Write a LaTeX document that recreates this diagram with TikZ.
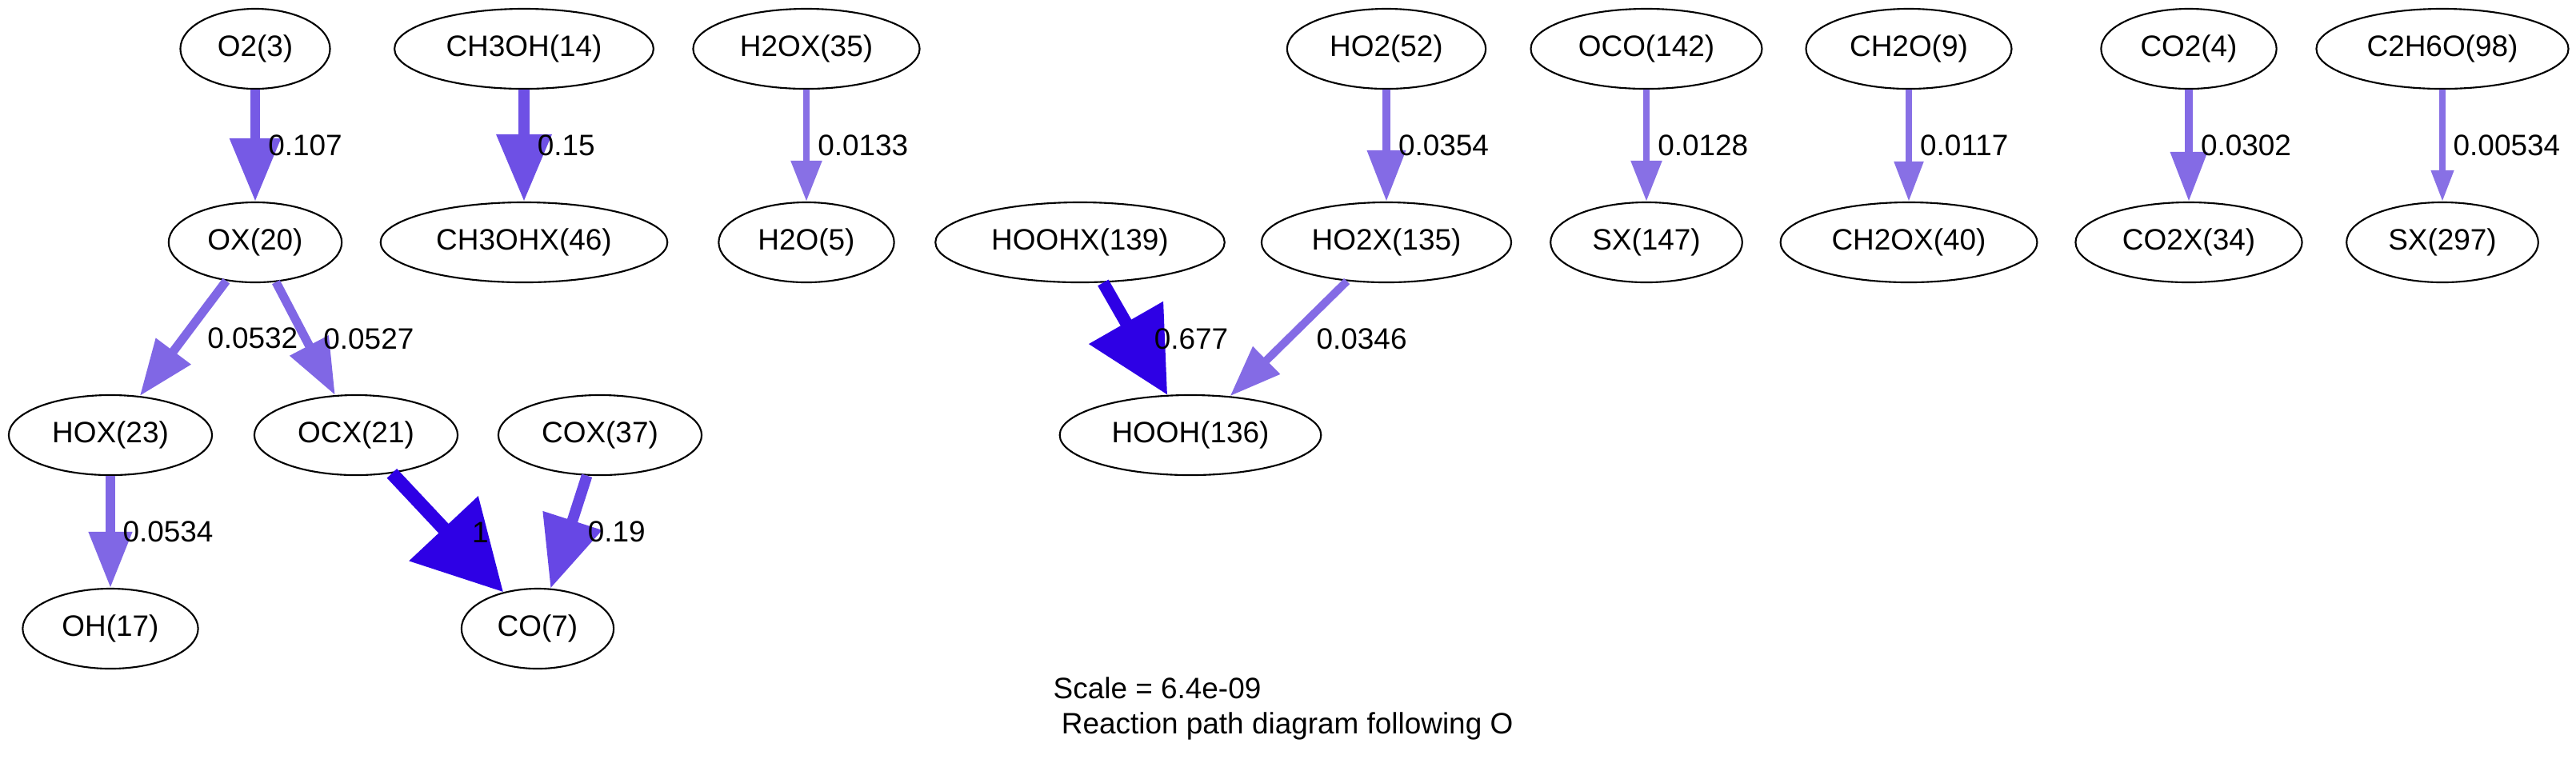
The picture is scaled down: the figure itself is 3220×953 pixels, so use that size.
\documentclass[tikz,border=0pt]{standalone}
\usepackage{fontspec}
\setmainfont{Liberation Sans}
\usetikzlibrary{arrows.meta,shapes.geometric}
\definecolor{cA}{rgb}{0.180,0.000,0.9}
\definecolor{cB}{rgb}{0.403,0.279,0.9}
\definecolor{cC}{rgb}{0.432,0.315,0.9}
\definecolor{cD}{rgb}{0.463,0.354,0.9}
\definecolor{cE}{rgb}{0.502,0.402,0.9}
\definecolor{cF}{rgb}{0.516,0.420,0.9}
\definecolor{cG}{rgb}{0.533,0.441,0.9}
\def\spfont{\fontsize{10.5}{12.6}\selectfont}

\begin{document}
\begin{tikzpicture}[x=0.01cm, y=-0.01cm,
  sp/.style={ellipse, draw, line width=0.6pt, minimum width=1.87cm, minimum height=1cm, inner xsep=0.17cm, inner ysep=0pt, font=\spfont},
  rxn/.style 2 args={-{Triangle[length=#1, width=#2]}},
  flab/.style={right, pos=0.5, inner sep=0pt, xshift=0.1cm, font=\spfont}]
			\useasboundingbox (0, 0) rectangle (3220, 953);
			%%%%% species %%%%%
			\node[sp] (o2) at (319, 61) {O2(3)};
			\node[sp] (ch3oh) at (655, 61) {CH3OH(14)};
			\node[sp] (h2ox) at (1008, 61) {H2OX(35)};
			\node[sp] (ho2) at (1733, 61) {HO2(52)};
			\node[sp] (oco) at (2058, 61) {OCO(142)};
			\node[sp] (ch2o) at (2386, 61) {CH2O(9)};
			\node[sp] (co2) at (2736, 61) {CO2(4)};
			\node[sp] (c2h6o) at (3053, 61) {C2H6O(98)};
			
			\node[sp] (ox) at (319, 303) {OX(20)};
			\node[sp] (ch3ohx) at (655, 303) {CH3OHX(46)};
			\node[sp] (h2o) at (1008, 303) {H2O(5)};
			\node[sp] (hoohx) at (1350, 303) {HOOHX(139)};
			\node[sp] (ho2x) at (1733, 303) {HO2X(135)};
			\node[sp] (sxa) at (2058, 303) {SX(147)};
			\node[sp] (ch2ox) at (2386, 303) {CH2OX(40)};
			\node[sp] (co2x) at (2736, 303) {CO2X(34)};
			\node[sp] (sxb) at (3053, 303) {SX(297)};
			
			\node[sp] (hox) at (138, 544) {HOX(23)};
			\node[sp] (ocx) at (445, 544) {OCX(21)};
			\node[sp] (cox) at (750, 544) {COX(37)};
			\node[sp] (hooh) at (1488, 544) {HOOH(136)};
			
			\node[sp] (oh) at (138, 786) {OH(17)};
			\node[sp] (co) at (672, 786) {CO(7)};
			
			%%%%% fluxes %%%%%
			\draw[rxn={0.79cm}{0.61cm}, line width=0.125cm, draw=cD] (o2) -- node[flab] {0.107} (ox);
			\draw[rxn={0.84cm}{0.66cm}, line width=0.135cm, draw=cC] (ch3oh) -- node[flab] {0.15} (ch3ohx);
			\draw[rxn={0.51cm}{0.37cm}, line width=0.085cm, draw=cG] (h2ox) -- node[flab] {0.0133} (h2o);
			\draw[rxn={0.64cm}{0.46cm}, line width=0.100cm, draw=cF] (ho2) -- node[flab] {0.0354} (ho2x);
			\draw[rxn={0.51cm}{0.37cm}, line width=0.085cm, draw=cG] (oco) -- node[flab] {0.0128} (sxa);
			\draw[rxn={0.50cm}{0.35cm}, line width=0.083cm, draw=cG] (ch2o) -- node[flab] {0.0117} (ch2ox);
			\draw[rxn={0.62cm}{0.44cm}, line width=0.100cm, draw=cF] (co2) -- node[flab] {0.0302} (co2x);
			\draw[rxn={0.39cm}{0.27cm}, line width=0.073cm, draw=cG] (c2h6o) -- node[flab] {0.00534} (sxb);
			
			\draw[rxn={0.70cm}{0.52cm}, line width=0.110cm, draw=cE] (ox) -- node[flab, xshift=0.15cm] {0.0532} (hox);
			\draw[rxn={0.70cm}{0.52cm}, line width=0.110cm, draw=cE] (ox) -- node[flab, xshift=0.07cm] {0.0527} (ocx);
			\draw[rxn={1.04cm}{1.03cm}, line width=0.155cm, draw=cA] (hoohx) -- node[flab, xshift=0.06cm] {0.677} (hooh);
			\draw[rxn={0.64cm}{0.46cm}, line width=0.100cm, draw=cF] (ho2x) -- node[flab, xshift=0.2cm] {0.0346} (hooh);
			
			\draw[rxn={0.70cm}{0.52cm}, line width=0.110cm, draw=cE] (hox) -- node[flab] {0.0534} (oh);
			\draw[rxn={1.09cm}{1.14cm}, line width=0.170cm, draw=cA] (ocx) -- node[flab, xshift=0.12cm] {1} (co);
			\draw[rxn={0.89cm}{0.74cm}, line width=0.137cm, draw=cB] (cox) -- node[flab, xshift=0.07cm] {0.19} (co);
			
			\node[anchor=west, align=left, inner sep=0pt, font=\spfont] (title) at (1316, 886) {Scale = 6.4e-09\\\ Reaction path diagram following O};
			%%%%% END %%%%%
\end{tikzpicture}
\end{document}
